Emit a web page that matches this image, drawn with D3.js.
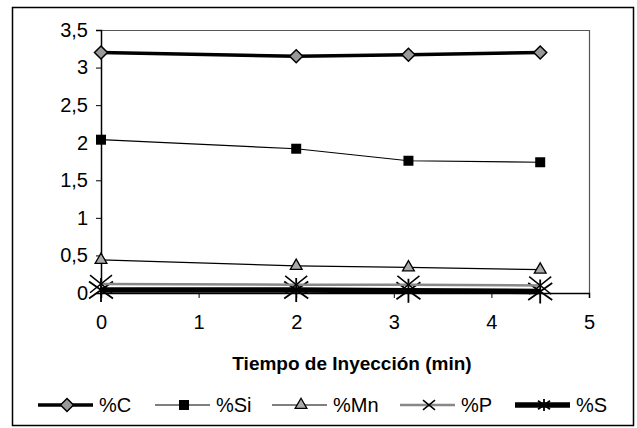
<!DOCTYPE html>
<html>
<head>
<meta charset="utf-8">
<script src="https://cdn.jsdelivr.net/npm/d3@7"></script>
<style>
  body { margin: 0; background: #fff; }
  text { font-family: "Liberation Sans", Arial, sans-serif; }
</style>
</head>
<body>
<div class="chart"></div>
<script>
const width = 637;
const height = 428;

// tiempo de inyeccion (min)
const tiempos = [0, 2, 3.15, 4.5];
const pctC = [3.2, 3.15, 3.17, 3.2];
const pctSi = [2.04, 1.92, 1.76, 1.74];
const pctMn = [0.44, 0.36, 0.34, 0.31];
const pctP = [0.12, 0.11, 0.11, 0.1];
const pctS = [0.04, 0.04, 0.03, 0.02];
const xTicks = [0, 1, 2, 3, 4, 5];
const yTicks = [0, 0.5, 1, 1.5, 2, 2.5, 3, 3.5];

const seriesNames = ["%C", "%Si", "%Mn", "%P", "%S"];
const seriesValues = [pctC, pctSi, pctMn, pctP, pctS];

const styles = {
  "%C": { stroke: "#000", sw: 3.5, marker: "diamond" },
  "%Si": { stroke: "#000", sw: 1.2, marker: "square" },
  "%Mn": { stroke: "#000", sw: 1.2, marker: "triangle" },
  "%P": { stroke: "#888", sw: 2.5, marker: "x" },
  "%S": { stroke: "#000", sw: 5.5, marker: "star" },
};

const plot = { left: 101, right: 589, top: 30, bottom: 293 };
const fontSize = 20;

let svg = d3
  .select(".chart")
  .append("svg")
  .attr("width", width)
  .attr("height", height);

// marco exterior
svg
  .append("rect")
  .attr("x", 12.5)
  .attr("y", 7.5)
  .attr("width", 621)
  .attr("height", 418)
  .attr("fill", "none")
  .attr("stroke", "#000")
  .attr("stroke-width", 1.5);

let xScale = d3.scaleLinear().domain([0, 5]).range([plot.left, plot.right]);
let yScale = d3.scaleLinear().domain([0, 3.5]).range([plot.bottom, plot.top]);

// borde del area de trazado (arriba y derecha)
svg
  .append("path")
  .attr("d", `M${plot.left},${plot.top + 0.5}H${plot.right + 0.5}V${plot.bottom}`)
  .attr("fill", "none")
  .attr("stroke", "#555")
  .attr("stroke-width", 1.2);

const fmt = (d) => String(d).replace(".", ",");

let xAxis = d3.axisBottom(xScale).tickValues(xTicks).tickSize(5).tickPadding(17).tickFormat(fmt);
svg
  .append("g")
  .attr("class", "xAxis")
  .attr("transform", "translate(0," + plot.bottom + ")")
  .call(xAxis);

let yAxis = d3.axisLeft(yScale).tickValues(yTicks).tickSize(5).tickPadding(8).tickFormat(fmt);
svg
  .append("g")
  .attr("class", "yAxis")
  .attr("transform", "translate(" + plot.left + ",0)")
  .call(yAxis);

svg.selectAll(".xAxis path, .yAxis path").attr("stroke", "#000").attr("stroke-width", 1.5);
svg.selectAll(".tick line").attr("stroke", "#000");
svg
  .selectAll(".tick text")
  .attr("font-size", fontSize)
  .attr("fill", "#000")
  .style("font-family", '"Liberation Sans", Arial, sans-serif');

svg
  .append("text")
  .text("Tiempo de Inyección (min)")
  .attr("x", 352)
  .attr("y", 370)
  .attr("text-anchor", "middle")
  .attr("font-size", 19)
  .attr("font-weight", "bold")
  .attr("fill", "#000");

function drawMarker(g, type, x, y, big) {
  if (type === "diamond") {
    let r = 6.5;
    g.append("path")
      .attr("d", `M${x},${y - r}L${x + r},${y}L${x},${y + r}L${x - r},${y}Z`)
      .attr("fill", "#999")
      .attr("stroke", "#000")
      .attr("stroke-width", 1.5);
  } else if (type === "square") {
    g.append("rect")
      .attr("x", x - 5)
      .attr("y", y - 5)
      .attr("width", 10)
      .attr("height", 10)
      .attr("fill", "#000");
  } else if (type === "triangle") {
    g.append("path")
      .attr("d", d3.symbol(d3.symbolTriangle, 60)())
      .attr("transform", `translate(${x},${y})`)
      .attr("fill", "#aaa")
      .attr("stroke", "#000")
      .attr("stroke-width", 1.3);
  } else if (type === "x") {
    let r = big ? 11 : 6;
    g.append("path")
      .attr("d", `M${x - r},${y - r * 0.8}L${x + r},${y + r * 0.8}M${x - r},${y + r * 0.8}L${x + r},${y - r * 0.8}`)
      .attr("stroke", "#000")
      .attr("stroke-width", 1.5);
  } else if (type === "star") {
    let r = big ? 12 : 6;
    g.append("path")
      .attr("d", `M${x - r},${y - r * 0.7}L${x + r},${y + r * 0.7}M${x - r},${y + r * 0.7}L${x + r},${y - r * 0.7}M${x},${y - r}V${y + r}`)
      .attr("stroke", "#000")
      .attr("stroke-width", 1.8);
  }
}

let lineGen = d3
  .line()
  .x((d, i) => xScale(tiempos[i]))
  .y((d) => yScale(d));

// dibujar de abajo hacia arriba para que %S quede debajo de %P
let order = [4, 3, 2, 1, 0];
order.forEach((k) => {
  let name = seriesNames[k];
  let st = styles[name];
  let g = svg.append("g").attr("class", "serie");
  g.append("path")
    .datum(seriesValues[k])
    .attr("d", lineGen)
    .attr("fill", "none")
    .attr("stroke", st.stroke)
    .attr("stroke-width", st.sw);
  seriesValues[k].forEach((v, i) => {
    drawMarker(g, st.marker, xScale(tiempos[i]), yScale(v), true);
  });
});

// leyenda
const legendX = [38, 155, 272, 400, 515];
let legend = svg.append("g").attr("class", "legend");
seriesNames.forEach((name, k) => {
  let st = styles[name];
  let x0 = legendX[k];
  let y0 = 405;
  legend
    .append("line")
    .attr("x1", x0)
    .attr("x2", x0 + 55)
    .attr("y1", y0)
    .attr("y2", y0)
    .attr("stroke", st.stroke)
    .attr("stroke-width", st.sw);
  drawMarker(legend, st.marker, x0 + 29, y0, false);
  legend
    .append("text")
    .text(name)
    .attr("x", x0 + 61)
    .attr("y", y0 + 7)
    .attr("font-size", fontSize)
    .attr("fill", "#000");
});
</script>
</body>
</html>
